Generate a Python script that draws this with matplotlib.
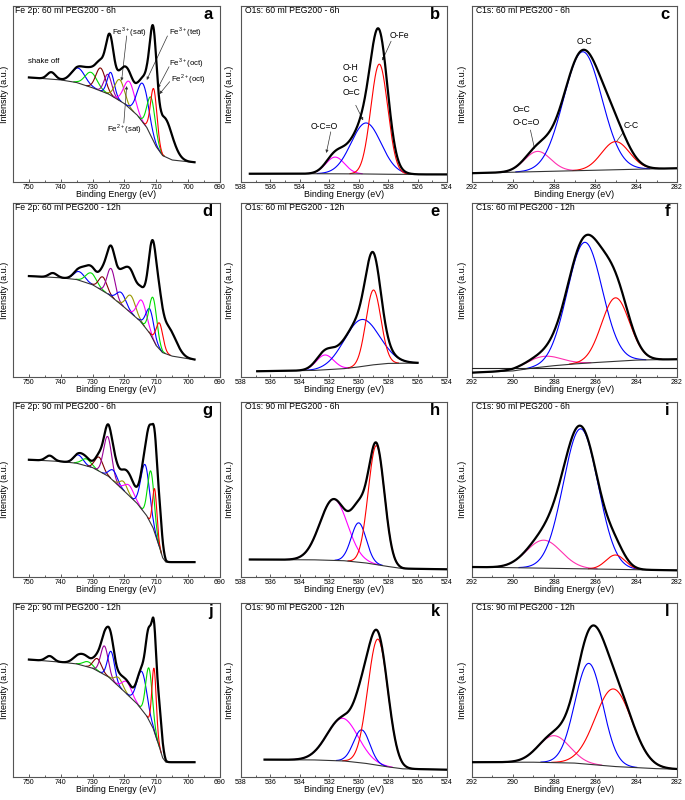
import numpy as np
import matplotlib.pyplot as plt
from matplotlib.ticker import MultipleLocator

plt.rcParams['font.family'] = ['Liberation Sans', 'DejaVu Sans']
plt.rcParams['mathtext.fontset'] = 'custom'
plt.rcParams['mathtext.rm'] = 'Liberation Sans'

# ---- data (intensity as fraction of panel height) ----
# fitted components: (centre eV, height above background, fwhm eV)
# "extra" = structure in the measured curve that no drawn component covers

# Fe 2p, 60 ml PEG200 - 6h
a_range = (750, 698)
a_bg_e = [750, 740, 735, 730, 725, 720, 716, 713, 710, 708, 705, 700, 698]
a_bg_i = [.594, .58, .565, .535, .50, .445, .38, .31, .20, .15, .125, .115, .112]
a_peaks = [(734.5, .085, 5.0), (730.5, .085, 4.5), (727.5, .13, 3.5), (725.2, .11, 2.8),
           (724.3, .13, 2.6), (721.5, .12, 3.5), (718.5, .15, 4.0), (714.2, .22, 4.2),
           (711.6, .22, 3.0), (710.8, .30, 2.4)]
a_extra = [(743.0, .04, 3.0), (724.5, .09, 3.0), (719.5, .04, 3.0), (711.1, .03, 2.2), (707.5, .22, 6.0)]

# O1s, 60 ml PEG200 - 6h
b_range = (537.4, 524)
b_bg_e = [537.4, 533, 530, 528, 526, 524]
b_bg_i = [.047, .047, .046, .044, .043, .043]
b_peaks = [(531.6, .095, 1.5), (529.5, .29, 2.4), (528.6, .625, 1.35)]
b_extra = []

# C1s, 60 ml PEG200 - 6h
c_range = (292, 282)
c_bg_e = [292, 282]
c_bg_i = [.05, .078]
c_peaks = [(288.8, .115, 1.5), (286.6, .675, 2.2), (285.0, .16, 1.6)]
c_extra = []

# Fe 2p, 60 ml PEG200 - 12h
d_range = (750, 698)
d_bg_e = [750, 740, 735, 730, 725, 720, 715, 712, 710, 708, 705, 700, 698]
d_bg_i = [.58, .57, .56, .53, .475, .40, .32, .25, .18, .14, .12, .105, .10]
d_peaks = [(742.5, .025, 3.0), (734.2, .05, 4.0), (730.5, .065, 4.0), (726.8, .08, 3.0),
           (724.2, .16, 3.0), (721.0, .07, 3.5), (718.0, .10, 3.5), (714.5, .13, 3.5),
           (712.0, .14, 3.0), (711.0, .24, 2.8), (709.0, .15, 2.6)]
d_extra = [(731.0, .035, 6.0), (724.5, .085, 3.5), (719.0, .14, 7.0), (711.0, .15, 3.0), (706.5, .16, 6.0)]

# O1s, 60 ml PEG200 - 12h
e_range = (536.9, 526)
e_bg_e = [536.9, 533, 531, 530, 529, 528, 526]
e_bg_i = [.033, .038, .048, .058, .07, .078, .08]
e_peaks = [(532.3, .085, 1.4), (529.8, .27, 2.8), (529.0, .43, 1.2)]
e_extra = []

# C1s, 60 ml PEG200 - 12h
f_range = (292, 282)
f_bg_e = [292, 290, 289, 288, 287, 286, 285, 284, 282]
f_bg_i = [.025, .035, .052, .065, .075, .083, .09, .097, .102]
f_line_i = [.054, .054]
f_peaks = [(288.5, .06, 2.0), (286.5, .695, 2.0), (285.0, .365, 1.6)]
f_extra = []

# Fe 2p, 90 ml PEG200 - 6h
g_range = (750, 698)
g_bg_e = [750, 740, 735, 730, 725, 720, 716, 713, 711, 709, 708, 707, 698]
g_bg_i = [.67, .66, .65, .625, .575, .49, .42, .35, .28, .17, .11, .085, .085]
g_peaks = [(734.5, .05, 3.5), (732.0, .04, 3.5), (728.0, .08, 3.0), (725.3, .225, 3.0),
           (723.5, .06, 3.0), (720.3, .05, 2.8), (718.5, .06, 3.5), (713.5, .28, 3.2),
           (711.7, .30, 2.4), (710.5, .25, 1.6)]
g_extra = [(743.5, .03, 3.0), (725.0, .035, 3.0), (722.5, .045, 3.0), (718.0, .05, 5.0),
           (711.9, .09, 2.8), (709.3, .25, 2.2)]

# O1s, 90 ml PEG200 - 6h
h_range = (537.4, 524)
h_bg_e = [537.4, 533, 531, 529.5, 528, 527, 524]
h_bg_i = [.10, .098, .093, .08, .06, .048, .044]
h_peaks = [(531.7, .35, 2.2), (530.0, .225, 1.2), (528.8, .68, 1.3)]
h_extra = []

# C1s, 90 ml PEG200 - 6h
i_range = (292, 282)
i_bg_e = [292, 282]
i_bg_i = [.057, .038]
i_peaks = [(288.5, .16, 2.0), (286.7, .80, 2.0), (285.0, .082, 1.1)]
i_extra = []

# Fe 2p, 90 ml PEG200 - 12h
j_range = (750, 698)
j_bg_e = [750, 740, 735, 730, 725, 720, 716, 713, 711, 709, 708, 707, 698]
j_bg_i = [.675, .66, .65, .625, .575, .49, .42, .35, .28, .17, .11, .085, .085]
j_peaks = [(731.5, .03, 3.5), (728.5, .07, 3.0), (726.3, .165, 2.8), (724.2, .16, 2.6),
           (721.8, .05, 3.0), (719.2, .07, 3.5), (714.5, .22, 3.6), (712.3, .30, 2.4),
           (710.7, .36, 1.6)]
j_extra = [(743.5, .03, 3.0), (734.0, .055, 4.5), (725.0, .07, 3.0), (711.8, .15, 2.6), (709.3, .24, 2.2)]

# O1s, 90 ml PEG200 - 12h
k_range = (536.4, 524)
k_bg_e = [536.4, 533, 531, 529.5, 528, 527, 524]
k_bg_i = [.10, .098, .092, .078, .058, .047, .042]
k_peaks = [(531.1, .245, 2.5), (529.8, .19, 1.3), (528.7, .725, 1.6)]
k_extra = []

# C1s, 90 ml PEG200 - 12h
l_range = (292, 282)
l_bg_e = [292, 289, 287, 285, 283, 282]
l_bg_i = [.085, .085, .08, .06, .048, .045]
l_peaks = [(288.0, .155, 1.8), (286.3, .58, 1.6), (285.1, .445, 2.1)]
l_extra = []

titles = ['Fe 2p: 60 ml PEG200 - 6h', 'O1s: 60 ml PEG200 - 6h', 'C1s: 60 ml PEG200 - 6h',
          'Fe 2p: 60 ml PEG200 - 12h', 'O1s: 60 ml PEG200 - 12h', 'C1s: 60 ml PEG200 - 12h',
          'Fe 2p: 90 ml PEG200 - 6h', 'O1s: 90 ml PEG200 - 6h', 'C1s: 90 ml PEG200 - 6h',
          'Fe 2p: 90 ml PEG200 - 12h', 'O1s: 90 ml PEG200 - 12h', 'C1s: 90 ml PEG200 - 12h']
letters = list('abcdefghijkl')

# colours
BL, GR, MR, PU, OL, MG, RD, PK = '#0000ff', '#00dd00', '#800000', '#990099', '#999900', '#ff00ff', '#ff0000', '#ff2fb0'
fe_cols = {
    'a': [BL, GR, MR, PU, BL, OL, MG, BL, GR, RD],
    'd': [MG, BL, GR, MR, PU, BL, OL, MG, BL, GR, RD],
    'g': [BL, GR, MR, PU, BL, OL, MG, BL, GR, RD],
    'j': [GR, MR, PU, BL, OL, MG, BL, GR, RD],
}
o_cols = [MG, BL, RD]
c_cols = [PK, BL, RD]

panels = [
    (a_range, a_bg_e, a_bg_i, a_peaks, a_extra, fe_cols['a']),
    (b_range, b_bg_e, b_bg_i, b_peaks, b_extra, o_cols),
    (c_range, c_bg_e, c_bg_i, c_peaks, c_extra, c_cols),
    (d_range, d_bg_e, d_bg_i, d_peaks, d_extra, fe_cols['d']),
    (e_range, e_bg_e, e_bg_i, e_peaks, e_extra, o_cols),
    (f_range, f_bg_e, f_bg_i, f_peaks, f_extra, c_cols),
    (g_range, g_bg_e, g_bg_i, g_peaks, g_extra, fe_cols['g']),
    (h_range, h_bg_e, h_bg_i, h_peaks, h_extra, o_cols),
    (i_range, i_bg_e, i_bg_i, i_peaks, i_extra, c_cols),
    (j_range, j_bg_e, j_bg_i, j_peaks, j_extra, fe_cols['j']),
    (k_range, k_bg_e, k_bg_i, k_peaks, k_extra, o_cols),
    (l_range, l_bg_e, l_bg_i, l_peaks, l_extra, c_cols),
]


def gauss(e, c, h, w):
    return h * np.exp(-4 * np.log(2) * ((e - c) / w) ** 2)


fig = plt.figure(figsize=(6.85, 8), dpi=100)
W, H = 685, 800
col_left = [13, 241, 472]
col_w = [207, 206, 205]
row_top = [6, 203, 402, 603]
row_bot = [182, 377, 577, 777]
xlims = [(755, 690), (538, 524), (292, 282)]
majors = [10, 2, 2]
ylab_x = [-0.017, -0.032, -0.022]

axes = []
for n, (rng, bge, bgi, peaks, extra, cols) in enumerate(panels):
    r, c = divmod(n, 3)
    ax = fig.add_axes([col_left[c] / W, 1 - row_bot[r] / H, col_w[c] / W, (row_bot[r] - row_top[r]) / H])
    axes.append(ax)
    e = np.linspace(rng[0], rng[1], 800)
    bg = np.interp(e, bge[::-1], bgi[::-1])
    total = bg.copy()
    for (pc, ph, pw), col in zip(peaks, cols):
        g = gauss(e, pc, ph, pw)
        total += g
        ax.plot(e, np.where(g > 1.5e-3, bg + g, np.nan), color=col, lw=0.8, zorder=2)
    for pc, ph, pw in extra:
        total += gauss(e, pc, ph, pw)
    ax.plot(bge, bgi, color='#333333', lw=0.8, zorder=3)
    ax.plot(e, total, color='black', lw=1.6, zorder=4)

    ax.set_xlim(*xlims[c])
    ax.set_ylim(0, 1)
    ax.xaxis.set_major_locator(MultipleLocator(majors[c]))
    ax.xaxis.set_minor_locator(MultipleLocator(majors[c] / 2))
    ax.set_yticks([])
    ax.tick_params(axis='x', which='both', direction='in', labelsize=5.0, pad=1.2, width=0.6, color='#444444')
    ax.tick_params(axis='x', which='major', length=2.5)
    ax.tick_params(axis='x', which='minor', length=1.5)
    for sp in ax.spines.values():
        sp.set_linewidth(0.8)
        sp.set_color('#555555')
    ax.set_xlabel('Binding Energy (eV)', fontsize=6.4)
    ax.xaxis.set_label_coords(0.5, -0.045)
    ax.set_ylabel('Intensity (a.u.)', fontsize=6.5)
    ax.yaxis.set_label_coords(ylab_x[c], 0.5)
    ax.text(0.012 if c == 0 else 0.02, 0.975, titles[n], transform=ax.transAxes,
            fontsize=6.2, ha='left', va='center')
    ax.text(0.965, 0.95, letters[n], transform=ax.transAxes, fontsize=12,
            fontweight='bold', ha='right', va='center')

# peak assignments (panels a, b, c)
arr = dict(arrowstyle='-|>', lw=0.5, color='#333333', mutation_scale=4, shrinkA=0, shrinkB=0)
ln = dict(arrowstyle='-', lw=0.5, color='#333333', shrinkA=0, shrinkB=0)
ax = axes[0]
fs = 5.6
ax.text(750.3, 0.683, 'shake off', fontsize=fs, va='center')
ax.text(723.9, 0.855, r'Fe$^{3+}$(sat)', fontsize=fs, va='center')
ax.annotate('', xy=(720.9, 0.575), xytext=(719.3, 0.83), arrowprops=arr)
ax.text(705.9, 0.855, r'Fe$^{3+}$(tet)', fontsize=fs, va='center')
ax.annotate('', xy=(713.0, 0.58), xytext=(706.5, 0.83), arrowprops=arr)
ax.text(705.9, 0.675, r'Fe$^{3+}$(oct)', fontsize=fs, va='center')
ax.annotate('', xy=(709.5, 0.535), xytext=(706.0, 0.655), arrowprops=arr)
ax.text(705.4, 0.585, r'Fe$^{2+}$(oct)', fontsize=fs, va='center')
ax.annotate('', xy=(709.0, 0.50), xytext=(705.8, 0.57), arrowprops=arr)
ax.text(725.4, 0.30, r'Fe$^{2+}$(sat)', fontsize=fs, va='center')
ax.annotate('', xy=(719.3, 0.545), xytext=(720.2, 0.335), arrowprops=arr)

ax = axes[1]
fs = 6.2
ax.text(527.9, 0.835, 'O-Fe', fontsize=fs, va='center')
ax.annotate('', xy=(528.4, 0.69), xytext=(527.8, 0.80), arrowprops=arr)
ax.text(531.1, 0.58, 'O-H\nO-C\nO=C', fontsize=fs, va='center', linespacing=1.45)
ax.annotate('', xy=(529.7, 0.35), xytext=(530.2, 0.436), arrowprops=arr)
ax.text(533.3, 0.317, 'O-C=O', fontsize=fs, va='center')
ax.annotate('', xy=(532.2, 0.165), xytext=(531.9, 0.285), arrowprops=arr)

ax = axes[2]
ax.text(286.5, 0.80, 'O-C', fontsize=fs, va='center', ha='center')
ax.text(290.0, 0.375, 'O=C\nO-C=O', fontsize=fs, va='center', linespacing=1.45)
ax.annotate('', xy=(288.95, 0.19), xytext=(289.15, 0.295), arrowprops=ln)
ax.text(284.6, 0.32, 'C-C', fontsize=fs, va='center')
ax.annotate('', xy=(284.95, 0.23), xytext=(284.6, 0.285), arrowprops=ln)

# straight reference baseline in panel f
axes[5].plot(f_range, f_line_i, color='#222222', lw=0.8, zorder=3)

fig.savefig('out.png', dpi=100)
